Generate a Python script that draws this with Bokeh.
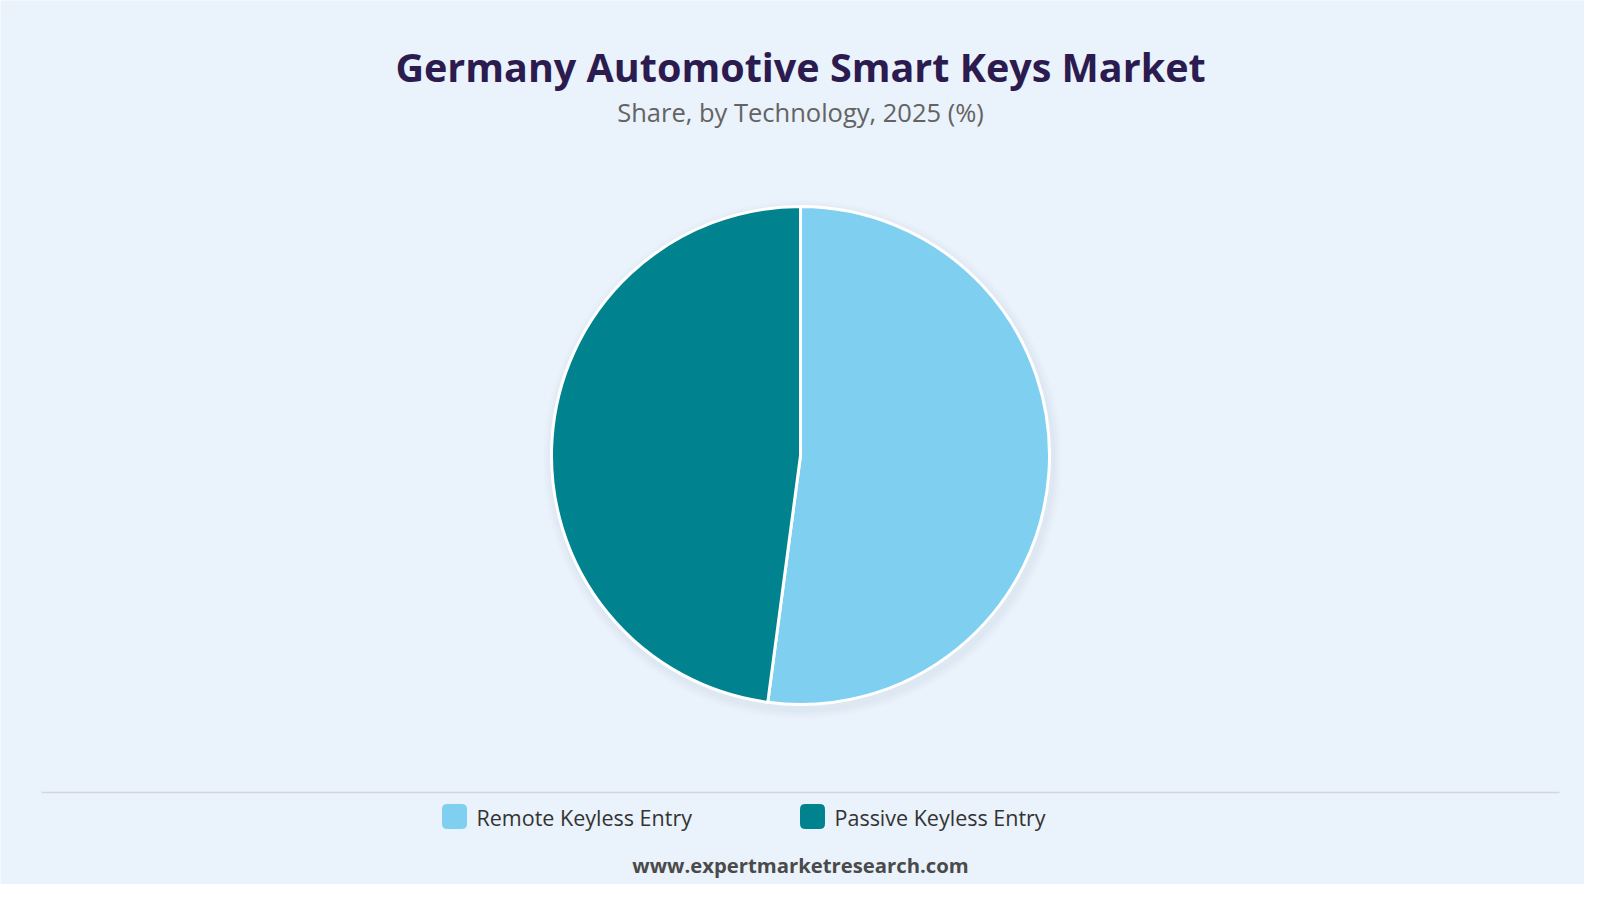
import math
from bokeh.plotting import figure
from bokeh.models import Range1d, ColumnDataSource
from bokeh.core.properties import value
from bokeh.embed import file_html
from bokeh.resources import INLINE

# ---- data ----
categories = ["Remote Keyless Entry", "Passive Keyless Entry"]
shares = [52.1, 47.9]
colors = ["#7FCFF1", "#00838F"]
title_text = "Germany Automotive Smart Keys Market"
subtitle_text = "Share, by Technology, 2025 (%)"
footer_text = "www.expertmarketresearch.com"

W, H = 1584, 884
BG = "#EAF2FB"

p = figure(width=W, height=H, x_range=Range1d(0, W), y_range=Range1d(0, H),
           output_backend="svg", toolbar_location=None, min_border=0)
p.axis.visible = False
p.grid.visible = False
p.outline_line_color = None
p.background_fill_color = BG
p.border_fill_color = BG

def Y(py):
    return H - py

CX = 800
# pie
cx, cy, r = CX, Y(455), 249
total = sum(shares)
starts, ends = [], []
a = math.pi / 2
for s in shares:
    starts.append(a)
    a -= 2 * math.pi * s / total
    ends.append(a)

# soft shadow
for dr, alpha in [(10, 0.025), (7, 0.035), (4, 0.05)]:
    p.circle(x=cx + 2, y=cy - 4, radius=r + dr, fill_color="#8a9bb0",
             fill_alpha=alpha, line_color=None)

src = ColumnDataSource(dict(start=starts, end=ends, color=colors, name=categories))
p.wedge(x=cx, y=cy, radius=r, start_angle="start", end_angle="end",
        direction="clock", fill_color="color", line_color="white",
        line_width=3, source=src)

# title / subtitle
p.text(x=[CX], y=[Y(66)], text=[title_text], text_font=value("Open Sans"),
       text_font_style="bold", text_font_size="39.5px", text_color="#2B1B4F",
       text_align="center", text_baseline="middle")
p.text(x=[CX], y=[Y(111)], text=[subtitle_text], text_font=value("Open Sans"),
       text_font_size="25.5px", text_color="#636363",
       text_align="center", text_baseline="middle")

# separator line
p.segment(x0=[41], y0=[Y(792)], x1=[1559], y1=[Y(792)], line_color="#D3D6DA", line_width=1.5)

# legend
leg_x = [442, 800]
for lx, c, name in zip(leg_x, colors, categories):
    p.rect(x=[lx + 12], y=[Y(816)], width=24, height=24, fill_color=c,
           line_color=c, border_radius=4)
    p.text(x=[lx + 34], y=[Y(817)], text=[name], text_font=value("Open Sans"),
           text_font_size="21.5px", text_color="#333333",
           text_align="left", text_baseline="middle")

# footer
p.text(x=[CX], y=[Y(864)], text=[footer_text], text_font=value("Open Sans"),
       text_font_style="bold", text_font_size="20.3px", text_color="#4A4A4A",
       text_align="center", text_baseline="middle")

open("out.html", "w").write(file_html(p, INLINE))
